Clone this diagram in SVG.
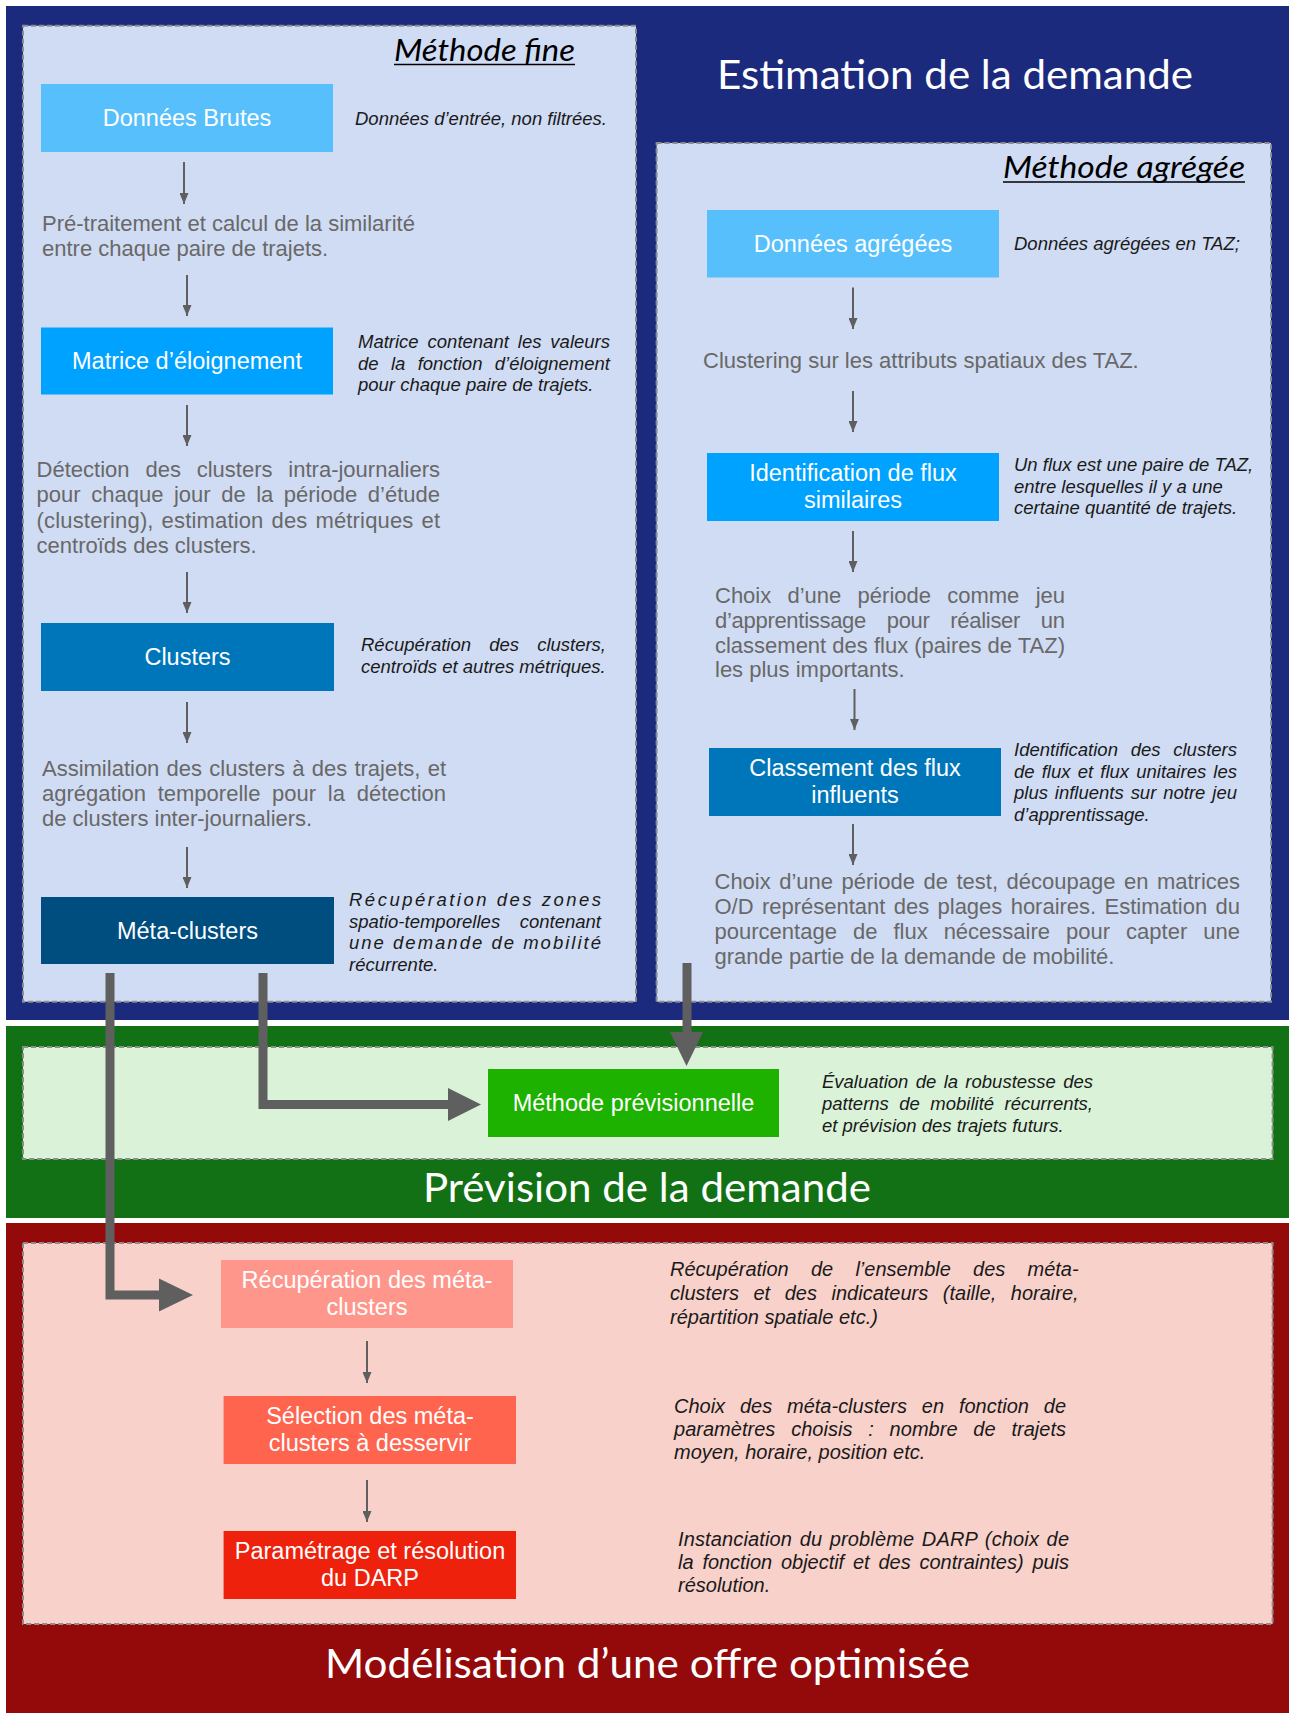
<svg xmlns="http://www.w3.org/2000/svg" width="1289" height="1713" viewBox="0 0 1289 1713">
<style>
.title{font-family:Lato,"Open Sans",sans-serif;fill:#ffffff;font-size:40px}
.sub{font-family:Lato,"Open Sans",sans-serif;font-style:italic;fill:#000;font-size:30px}
.lbl{font-family:"Liberation Sans",Arial,sans-serif;font-size:23.5px;fill:#ffffff;text-anchor:middle}
.body{font-family:"Liberation Sans",Arial,sans-serif;font-size:22px;fill:#686868}
.note{font-family:"Liberation Sans",Arial,sans-serif;font-style:italic;font-size:18.5px;fill:#1a1a1a}
.noteR{font-family:"Liberation Sans",Arial,sans-serif;font-style:italic;font-size:20px;fill:#1a1a1a}
.panel{stroke:#8c8c8c;stroke-width:2;stroke-dasharray:5 3}
.thin{stroke:#5f5f5f;stroke-width:2;fill:none;marker-end:url(#ah)}
.thick{stroke:#5f5f5f;stroke-width:9;fill:none}
.head{fill:#5f5f5f}
</style>
<defs>
<marker id="ah" viewBox="0 0 11 9" refX="11" refY="4.5" markerWidth="11" markerHeight="9" orient="auto" markerUnits="userSpaceOnUse"><path d="M0,0 L11,4.5 L0,9 z" fill="#5f5f5f"/></marker>
</defs>
<rect x="0" y="0" width="1289" height="1713" fill="#ffffff"/>

<!-- bands -->
<g id="band-estimation">
<rect x="6" y="6" width="1283" height="1014" fill="#1C2A7D"/>
<text class="title" x="717" y="89" textLength="476" lengthAdjust="spacingAndGlyphs">Estimation de la demande</text>
</g>
<g id="panel-fine">
<rect class="panel" x="23" y="25.7" width="613" height="976" fill="#D0DCF3"/>
<text class="sub" x="394" y="61" textLength="181" lengthAdjust="spacingAndGlyphs">Méthode fine</text>
<line x1="394" y1="64.5" x2="575" y2="64.5" stroke="#000" stroke-width="1.5"/>
</g>
<g id="panel-agregee">
<rect class="panel" x="656.6" y="143" width="614.4" height="858.7" fill="#D0DCF3"/>
<text class="sub" x="1003" y="178" textLength="242" lengthAdjust="spacingAndGlyphs">Méthode agrégée</text>
<line x1="1003" y1="182" x2="1245" y2="182" stroke="#000" stroke-width="1.5"/>
</g>
<g id="band-prevision">
<rect x="6" y="1026" width="1283" height="192" fill="#127115"/>
<rect class="panel" x="23" y="1047" width="1249.6" height="112" fill="#D9F2D8"/>
<text class="title" x="423" y="1202" textLength="448" lengthAdjust="spacingAndGlyphs">Prévision de la demande</text>
</g>
<g id="band-offre">
<rect x="6" y="1223" width="1283" height="490" fill="#940A0B"/>
<rect class="panel" x="23" y="1243" width="1249.6" height="381" fill="#F8D1CA"/>
<text class="title" x="325" y="1678" textLength="645" lengthAdjust="spacingAndGlyphs">Modélisation d’une offre optimisée</text>
</g>

<!-- free texts -->
<g id="txt-pretraitement" class="body">
<text x="42" y="231">Pré-traitement et calcul de la similarité</text>
<text x="42" y="256">entre chaque paire de trajets.</text>
</g>
<g id="txt-detection" class="body">
<text x="36.6" y="477" word-spacing="9.7" textLength="403.4" lengthAdjust="spacing">Détection des clusters intra-journaliers</text>
<text x="36.6" y="502" word-spacing="4.4" textLength="403.4" lengthAdjust="spacing">pour chaque jour de la période d’étude</text>
<text x="36.6" y="528" word-spacing="1.7" textLength="403.4" lengthAdjust="spacing">(clustering), estimation des métriques et</text>
<text x="36.6" y="553">centroïds des clusters.</text>
</g>
<g id="txt-assimilation" class="body">
<text x="42" y="776" word-spacing="1.1" textLength="404" lengthAdjust="spacing">Assimilation des clusters à des trajets, et</text>
<text x="42" y="801" word-spacing="5.6" textLength="404" lengthAdjust="spacing">agrégation temporelle pour la détection</text>
<text x="42" y="826">de clusters inter-journaliers.</text>
</g>
<g id="txt-clustering" class="body">
<text x="703" y="368">Clustering sur les attributs spatiaux des TAZ.</text>
</g>
<g id="txt-choix" class="body">
<text x="715" y="603" word-spacing="10.2" textLength="350" lengthAdjust="spacing">Choix d’une période comme jeu</text>
<text x="715" y="628" word-spacing="14.9" textLength="350" lengthAdjust="spacing">d’apprentissage pour réaliser un</text>
<text x="715" y="653" textLength="350" lengthAdjust="spacing">classement des flux (paires de TAZ)</text>
<text x="715" y="677">les plus importants.</text>
</g>
<g id="txt-test" class="body">
<text x="714.5" y="889" word-spacing="2.4" textLength="525.5" lengthAdjust="spacing">Choix d’une période de test, découpage en matrices</text>
<text x="714.5" y="914" word-spacing="2.2" textLength="525.5" lengthAdjust="spacing">O/D représentant des plages horaires. Estimation du</text>
<text x="714.5" y="939" word-spacing="9.9" textLength="525.5" lengthAdjust="spacing">pourcentage de flux nécessaire pour capter une</text>
<text x="714.5" y="964">grande partie de la demande de mobilité.</text>
</g>

<!-- connectors -->
<g id="connectors">
<line class="thin" x1="184" y1="162" x2="184" y2="204"/>
<line class="thin" x1="187" y1="275" x2="187" y2="316"/>
<line class="thin" x1="187" y1="405" x2="187" y2="446"/>
<line class="thin" x1="187" y1="572" x2="187" y2="613"/>
<line class="thin" x1="187" y1="702" x2="187" y2="743"/>
<line class="thin" x1="187" y1="847" x2="187" y2="888"/>
<line class="thin" x1="853" y1="287.5" x2="853" y2="329"/>
<line class="thin" x1="853" y1="391" x2="853" y2="432"/>
<line class="thin" x1="853" y1="531" x2="853" y2="572"/>
<line class="thin" x1="854.5" y1="689" x2="854.5" y2="730"/>
<line class="thin" x1="853" y1="824" x2="853" y2="865"/>
<line class="thin" x1="367" y1="1341" x2="367" y2="1383"/>
<line class="thin" x1="367" y1="1480" x2="367" y2="1522"/>
<path class="thick" d="M687,963 V1034"/>
<polygon class="head" points="670,1032 703,1032 686.5,1066"/>
<path class="thick" d="M263,973 V1104.5 H450"/>
<polygon class="head" points="448,1088 448,1121 481,1104.5"/>
<path class="thick" d="M110,973 V1295 H161"/>
<polygon class="head" points="159,1278.5 159,1311.5 193,1295"/>
</g>

<!-- nodes -->
<g id="node-donnees-brutes">
<rect x="41" y="84" width="292" height="68" fill="#56BFFC"/>
<text class="lbl" x="187" y="126">Données Brutes</text>
<text class="note" x="355" y="125">Données d’entrée, non filtrées.</text>
</g>
<g id="node-matrice">
<rect x="41" y="327.5" width="292" height="67" fill="#00A2FF"/>
<text class="lbl" x="187" y="369">Matrice d’éloignement</text>
<text class="note" x="358" y="348" word-spacing="3.8" textLength="252" lengthAdjust="spacing">Matrice contenant les valeurs</text>
<text class="note" x="358" y="370" word-spacing="7.2" textLength="252" lengthAdjust="spacing">de la fonction d’éloignement</text>
<text class="note" x="358" y="391">pour chaque paire de trajets.</text>
</g>
<g id="node-clusters">
<rect x="41" y="623" width="293" height="68" fill="#0076BA"/>
<text class="lbl" x="187.5" y="665">Clusters</text>
<text class="note" x="361" y="651" word-spacing="13" textLength="245" lengthAdjust="spacing">Récupération des clusters,</text>
<text class="note" x="361" y="673">centroïds et autres métriques.</text>
</g>
<g id="node-meta-clusters">
<rect x="41" y="897" width="293" height="67" fill="#004D80"/>
<text class="lbl" x="187.5" y="939">Méta-clusters</text>
<text class="note" x="349" y="906" textLength="252" lengthAdjust="spacing">Récupération des zones</text>
<text class="note" x="349" y="928" word-spacing="14.5" textLength="252" lengthAdjust="spacing">spatio-temporelles contenant</text>
<text class="note" x="349" y="949" textLength="252" lengthAdjust="spacing">une demande de mobilité</text>
<text class="note" x="349" y="971">récurrente.</text>
</g>
<g id="node-donnees-agregees">
<rect x="707" y="210" width="292" height="67.5" fill="#56BFFC"/>
<text class="lbl" x="853" y="252">Données agrégées</text>
<text class="note" x="1014" y="250">Données agrégées en TAZ;</text>
</g>
<g id="node-identification">
<rect x="707" y="453" width="292" height="68" fill="#00A2FF"/>
<text class="lbl" x="853" y="481">Identification de flux</text>
<text class="lbl" x="853" y="508">similaires</text>
<text class="note" x="1014" y="471">Un flux est une paire de TAZ,</text>
<text class="note" x="1014" y="493">entre lesquelles il y a une</text>
<text class="note" x="1014" y="514">certaine quantité de trajets.</text>
</g>
<g id="node-classement">
<rect x="709" y="748" width="292" height="68" fill="#0076BA"/>
<text class="lbl" x="855" y="776">Classement des flux</text>
<text class="lbl" x="855" y="803">influents</text>
<text class="note" x="1014" y="756" word-spacing="7.6" textLength="223" lengthAdjust="spacing">Identification des clusters</text>
<text class="note" x="1014" y="778" word-spacing="2" textLength="223" lengthAdjust="spacing">de flux et flux unitaires les</text>
<text class="note" x="1014" y="799" word-spacing="1.8" textLength="223" lengthAdjust="spacing">plus influents sur notre jeu</text>
<text class="note" x="1014" y="821">d’apprentissage.</text>
</g>
<g id="node-methode-previsionnelle">
<rect x="488" y="1069" width="291" height="68" fill="#1DB100"/>
<text class="lbl" x="633.5" y="1111">Méthode prévisionnelle</text>
<text class="note" x="822" y="1088" word-spacing="2.2" textLength="271" lengthAdjust="spacing">Évaluation de la robustesse des</text>
<text class="note" x="822" y="1110" word-spacing="5.3" textLength="271" lengthAdjust="spacing">patterns de mobilité récurrents,</text>
<text class="note" x="822" y="1132">et prévision des trajets futurs.</text>
</g>
<g id="node-recuperation">
<rect x="221" y="1260" width="292" height="68" fill="#FF968C"/>
<text class="lbl" x="367" y="1288">Récupération des méta-</text>
<text class="lbl" x="367" y="1315">clusters</text>
<text class="noteR" x="670" y="1276" word-spacing="16.8" textLength="408.6" lengthAdjust="spacing">Récupération de l’ensemble des méta-</text>
<text class="noteR" x="670" y="1300" word-spacing="9" textLength="408.6" lengthAdjust="spacing">clusters et des indicateurs (taille, horaire,</text>
<text class="noteR" x="670" y="1324">répartition spatiale etc.)</text>
</g>
<g id="node-selection">
<rect x="223.6" y="1396" width="292.4" height="68" fill="#FF644F"/>
<text class="lbl" x="370" y="1424">Sélection des méta-</text>
<text class="lbl" x="370" y="1451">clusters à desservir</text>
<text class="noteR" x="674" y="1413" word-spacing="9.3" textLength="392" lengthAdjust="spacing">Choix des méta-clusters en fonction de</text>
<text class="noteR" x="674" y="1436" word-spacing="10.2" textLength="392" lengthAdjust="spacing">paramètres choisis : nombre de trajets</text>
<text class="noteR" x="674" y="1459">moyen, horaire, position etc.</text>
</g>
<g id="node-parametrage">
<rect x="223.6" y="1531" width="292.4" height="68" fill="#EE220C"/>
<text class="lbl" x="370" y="1559">Paramétrage et résolution</text>
<text class="lbl" x="370" y="1586">du DARP</text>
<text class="noteR" x="678" y="1546" word-spacing="1.9" textLength="391" lengthAdjust="spacing">Instanciation du problème DARP (choix de</text>
<text class="noteR" x="678" y="1569" word-spacing="3.4" textLength="391" lengthAdjust="spacing">la fonction objectif et des contraintes) puis</text>
<text class="noteR" x="678" y="1592">résolution.</text>
</g>
</svg>
